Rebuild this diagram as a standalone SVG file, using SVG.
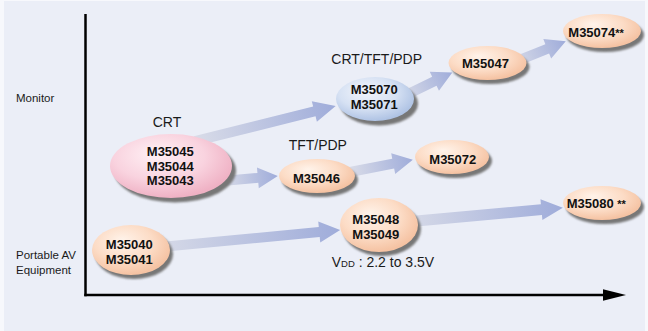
<svg xmlns="http://www.w3.org/2000/svg" width="648" height="331" viewBox="0 0 648 331">
<defs>
<style>
.lbl{font-family:"Liberation Sans",Arial,sans-serif;font-size:14px;fill:#1a1a1a;text-anchor:middle}
.cat{font-family:"Liberation Sans",Arial,sans-serif;font-size:11.5px;fill:#1a1a1a}
.nt{font-family:"Liberation Sans",Arial,sans-serif;font-size:13px;font-weight:bold;fill:#111;text-anchor:middle}
.ns{font-family:"Liberation Sans",Arial,sans-serif;font-size:13px;font-weight:bold;fill:#111}
.sh{fill:#777;filter:url(#blur)}
.arr{fill:url(#ag)}
</style>
<filter id="blur" x="-20%" y="-20%" width="140%" height="140%"><feGaussianBlur stdDeviation="0.8"/></filter>
<linearGradient id="ag" x1="0" y1="0" x2="1" y2="0">
<stop offset="0" stop-color="#D9DCE8"/>
<stop offset="1" stop-color="#9FACDA"/>
</linearGradient>
<radialGradient id="peach" cx="0.42" cy="0.38" r="0.62" fx="0.38" fy="0.3">
<stop offset="0" stop-color="#FFF3EA"/>
<stop offset="0.6" stop-color="#FCDCC6"/>
<stop offset="1" stop-color="#F5C2A2"/>
</radialGradient>
<radialGradient id="pink" cx="0.42" cy="0.38" r="0.62" fx="0.38" fy="0.3">
<stop offset="0" stop-color="#FFF1F5"/>
<stop offset="0.6" stop-color="#F9D3DF"/>
<stop offset="1" stop-color="#EFB1C4"/>
</radialGradient>
<radialGradient id="blue" cx="0.42" cy="0.38" r="0.62" fx="0.38" fy="0.3">
<stop offset="0" stop-color="#F3F6FC"/>
<stop offset="0.6" stop-color="#D6E1F3"/>
<stop offset="1" stop-color="#AFC3E4"/>
</radialGradient>
</defs>
<rect x="0" y="0" width="648" height="331" fill="#F7F8FC"/>
<rect x="4" y="1" width="641" height="330" fill="#EBEEF7"/>

<g id="axes">
<line x1="85.5" y1="14" x2="85.5" y2="296.2" stroke="#000" stroke-width="2.5"/>
<line x1="84.3" y1="295" x2="605" y2="295" stroke="#000" stroke-width="2.5"/>
<polygon points="603,289.3 626,295 603,300.7" fill="#000"/>
</g>

<text class="cat" x="16" y="101.6">Monitor</text>
<text class="cat" x="16" y="259.2">Portable AV</text>
<text class="cat" x="16" y="273.5">Equipment</text>

<g id="connectors">
<polygon class="arr" transform="translate(195,141.2) rotate(-14)" points="0,-5 123,-5 123,-10.5 145,0 123,10.5 123,5 0,5"/>
<polygon class="arr" transform="translate(222,181) rotate(-5)" points="0,-5 36,-5 36,-10.5 56,0 36,10.5 36,5 0,5"/>
<polygon class="arr" transform="translate(350,172) rotate(-11)" points="0,-5 44,-5 44,-10.5 64,0 44,10.5 44,5 0,5"/>
<polygon class="arr" transform="translate(402,97) rotate(-26)" points="0,-5 36,-5 36,-10.5 56,0 36,10.5 36,5 0,5"/>
<polygon class="arr" transform="translate(512,63) rotate(-22)" points="0,-5 38,-5 38,-10.5 58,0 38,10.5 38,5 0,5"/>
<polygon class="arr" transform="translate(150,248) rotate(-5.4)" points="0,-5 170,-5 170,-10.5 191,0 170,10.5 170,5 0,5"/>
<polygon class="arr" transform="translate(400,222.5) rotate(-5.2)" points="0,-5.5 142,-5.5 142,-10.5 163.5,0 142,10.5 142,5.5 0,5.5"/>
</g>

<text class="lbl" x="167" y="126.7">CRT</text>
<text class="lbl" x="376.7" y="64.3">CRT/TFT/PDP</text>
<text class="lbl" x="317.8" y="150">TFT/PDP</text>
<text class="lbl" x="331.7" y="266.5" style="text-anchor:start">V<tspan font-size="9.5">DD</tspan> : 2.2 to 3.5V</text>

<g id="crt">
<ellipse class="sh" cx="175" cy="170.5" rx="61" ry="32"/>
<ellipse cx="171" cy="166" rx="61" ry="32" fill="url(#pink)"/>
<text class="nt" x="170.3" y="156.3">M35045</text>
<text class="nt" x="170.3" y="170.8">M35044</text>
<text class="nt" x="170.3" y="185.3">M35043</text>
</g>

<g id="m35070">
<ellipse class="sh" cx="379" cy="103.5" rx="39" ry="22"/>
<ellipse cx="375" cy="99" rx="39" ry="22" fill="url(#blue)"/>
<text class="nt" x="374.2" y="94">M35070</text>
<text class="nt" x="374.2" y="108.5">M35071</text>
</g>

<g id="m35046">
<ellipse class="sh" cx="320" cy="180" rx="38" ry="17"/>
<ellipse cx="317" cy="176" rx="38" ry="17" fill="url(#peach)"/>
<text class="nt" x="316.5" y="183">M35046</text>
</g>

<g id="m35072">
<ellipse class="sh" cx="455" cy="161" rx="37" ry="17"/>
<ellipse cx="452" cy="157" rx="37" ry="17" fill="url(#peach)"/>
<text class="nt" x="452.8" y="164">M35072</text>
</g>

<g id="m35047">
<ellipse class="sh" cx="490.5" cy="67" rx="39" ry="17"/>
<ellipse cx="487.5" cy="63" rx="39" ry="17" fill="url(#peach)"/>
<text class="nt" x="485.5" y="68">M35047</text>
</g>

<g id="m35074">
<ellipse class="sh" cx="605" cy="35" rx="39" ry="17"/>
<ellipse cx="602" cy="31" rx="39" ry="17" fill="url(#peach)"/>
<text class="ns" x="568.3" y="37.3">M35074<tspan font-size="11">**</tspan></text>
</g>

<g id="m35040">
<ellipse class="sh" cx="134" cy="254" rx="39" ry="25"/>
<ellipse cx="131" cy="250" rx="39" ry="25" fill="url(#peach)"/>
<text class="nt" x="129.3" y="249">M35040</text>
<text class="nt" x="129.3" y="264">M35041</text>
</g>

<g id="m35048">
<ellipse class="sh" cx="382" cy="229" rx="39" ry="27"/>
<ellipse cx="379" cy="225" rx="39" ry="27" fill="url(#peach)"/>
<text class="nt" x="375.8" y="224.3">M35048</text>
<text class="nt" x="375.8" y="238.8">M35049</text>
</g>

<g id="m35080">
<ellipse class="sh" cx="605" cy="207" rx="39" ry="17"/>
<ellipse cx="602" cy="203" rx="39" ry="17" fill="url(#peach)"/>
<text class="ns" x="566.7" y="208">M35080 <tspan font-size="11">**</tspan></text>
</g>
</svg>
